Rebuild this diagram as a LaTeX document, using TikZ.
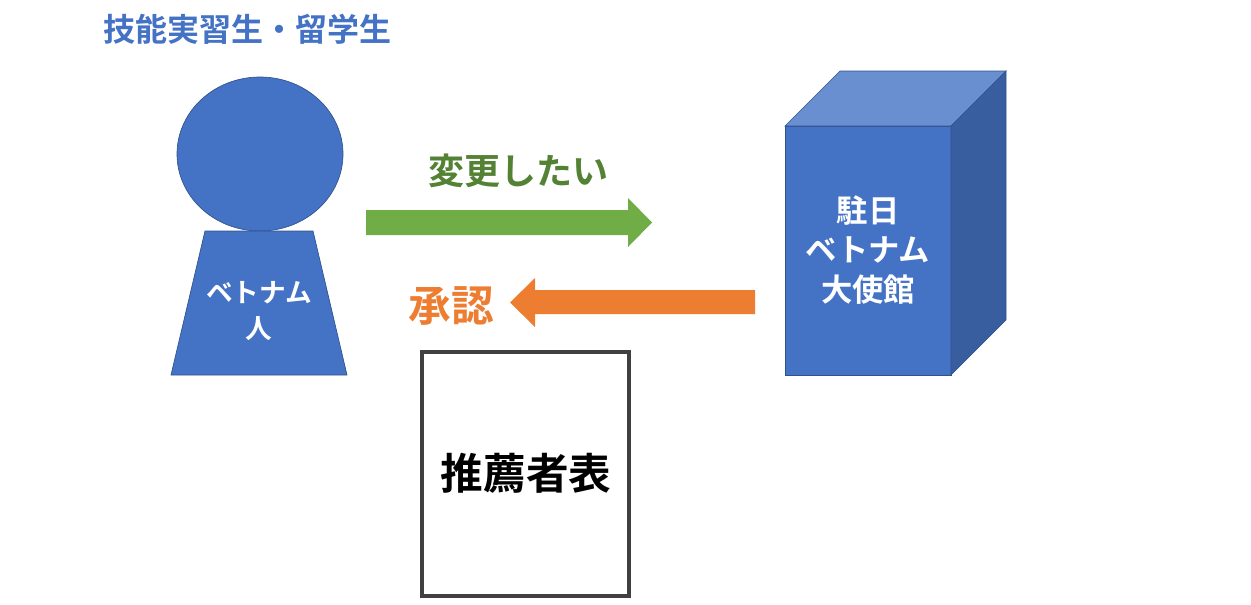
\documentclass[tikz,border=0pt]{standalone}
\usepackage{fontspec}
\newfontfamily\cjk{Noto Sans CJK JP}[BoldFont={* Bold}]
\definecolor{blu}{HTML}{4472C4}
\definecolor{bludark}{HTML}{2F528F}
\definecolor{blutop}{HTML}{6A8FD0}
\definecolor{bluside}{HTML}{385EA0}
\definecolor{grn}{HTML}{70AD47}
\definecolor{grntxt}{HTML}{548235}
\definecolor{org}{HTML}{ED7D31}
\begin{document}
\begin{tikzpicture}[x=0.75pt,y=-0.75pt,
  lbl/.style={font=\cjk\bfseries, align=center, inner sep=0pt},
  face/.style={draw=bludark, line width=0.5pt}]
\useasboundingbox (0,0) rectangle (1251,604);
\node[lbl, text=blu, font=\cjk\bfseries\fontsize{24}{28}\selectfont] (title) at (247,29) {技能実習生・留学生};
% person
\draw[face, fill=blu] (260,154) ellipse [x radius=83, y radius=77];
\draw[face, fill=blu] (205,231) -- (313,231) -- (347,375) -- (171,375) -- cycle;
\node[lbl, text=white, font=\cjk\bfseries\fontsize{20}{27}\selectfont] (viet) at (259,311) {ベトナム\\人};
% green arrow
\fill[grn] (366,210) -- (628,210) -- (628,198) -- (652,222.5) -- (628,247) -- (628,235) -- (366,235) -- cycle;
\node[lbl, text=grntxt, font=\cjk\bfseries\fontsize{27}{32}\selectfont] (want) at (518,171) {変更したい};
% orange arrow
\fill[org] (755,290) -- (535,290) -- (535,278) -- (510,302.5) -- (535,327) -- (535,314) -- (755,314) -- cycle;
\node[lbl, text=org, font=\cjk\bfseries\fontsize{32}{36}\selectfont] (ok) at (451,306) {承認};
% cube
\draw[face, fill=blu] (785,126) rectangle (951,375);
\draw[face, fill=blutop] (785,126) -- (840,71) -- (1006,71) -- (951,126) -- cycle;
\draw[face, fill=bluside] (951,126) -- (1006,71) -- (1006,320) -- (951,375) -- cycle;
\node[lbl, text=white, font=\cjk\bfseries\fontsize{23.5}{29.5}\selectfont] (emb) at (868,250) {駐日\\ベトナム\\大使館};
% document
\draw[draw=black!75, line width=2.4pt] (422,352) rectangle (629,596);
\node[lbl, font=\cjk\bfseries\fontsize{32}{36}\selectfont] (doc) at (526,473) {推薦者表};
\end{tikzpicture}
\end{document}
